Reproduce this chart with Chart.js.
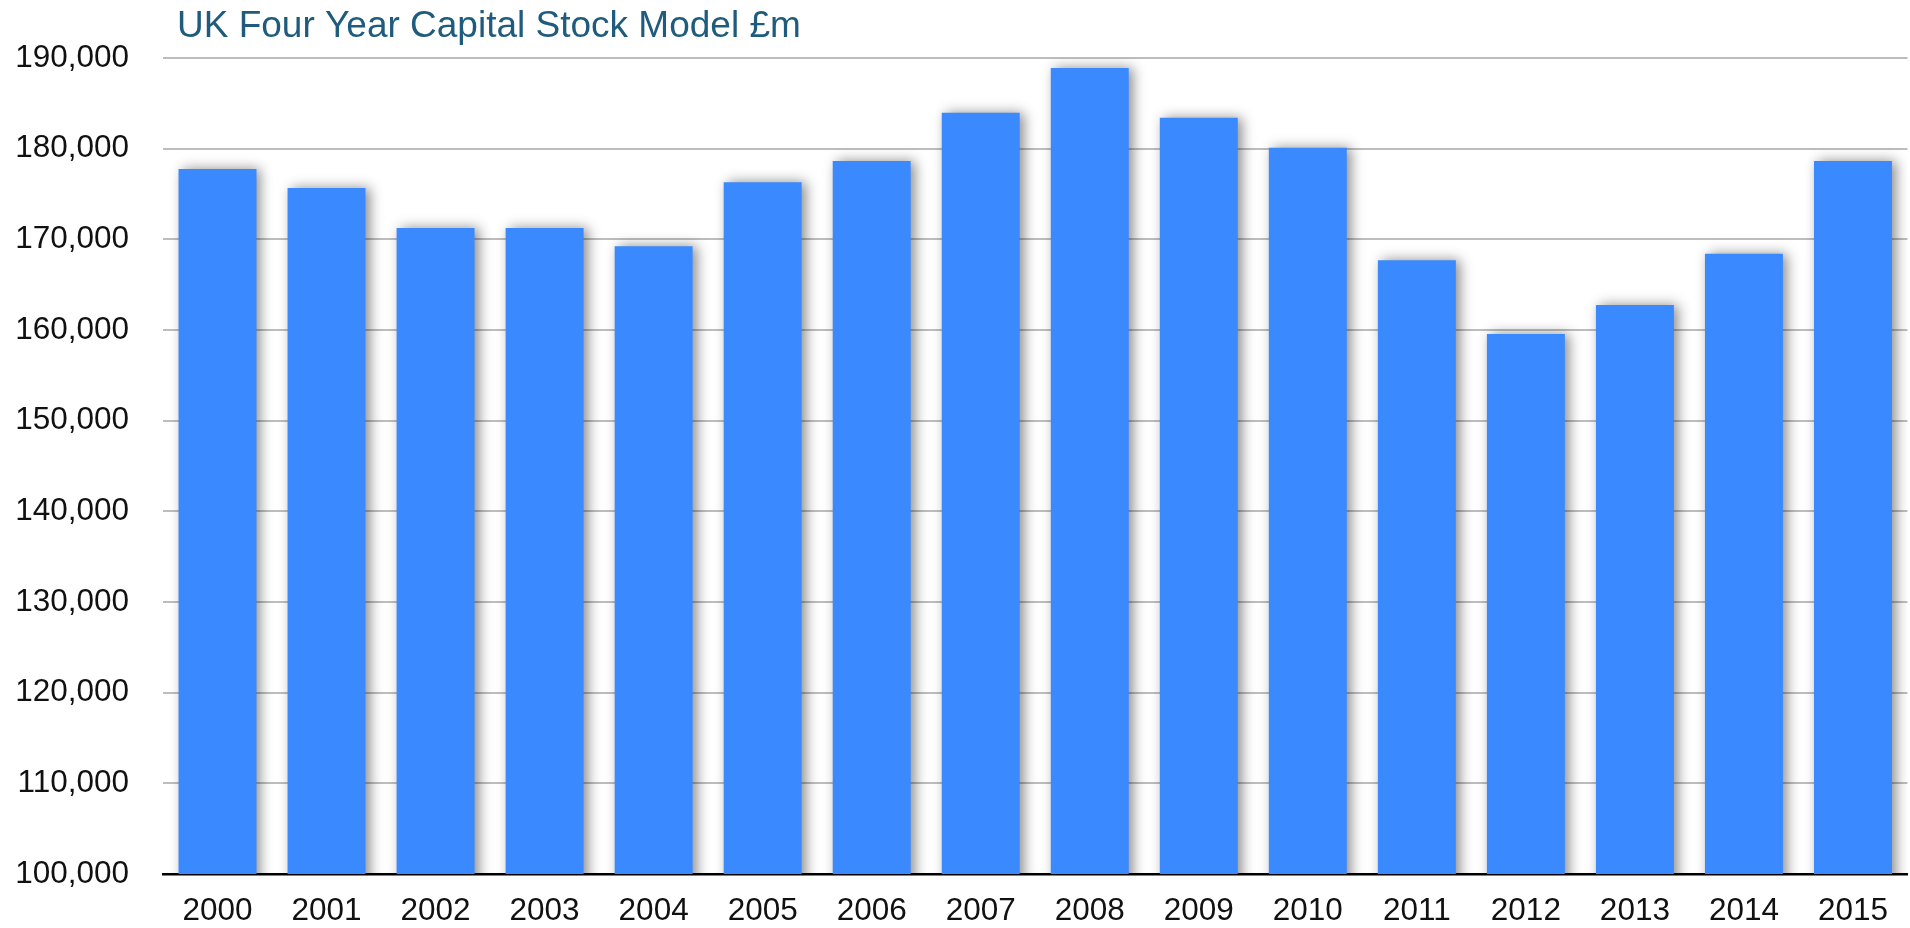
<!DOCTYPE html>
<html>
<head>
<meta charset="utf-8">
<title>UK Four Year Capital Stock Model</title>
<script src="https://cdn.jsdelivr.net/npm/chart.js@4/dist/chart.umd.min.js"></script>
<style>
  html, body { margin: 0; padding: 0; background: #fff; }
  #wrap { width: 1910px; height: 928px; position: relative; }
</style>
</head>
<body>
<div id="wrap"><canvas id="chartStock"></canvas></div>
<script>
// data (£m)
const years = ['2000', '2001', '2002', '2003', '2004', '2005', '2006', '2007',
               '2008', '2009', '2010', '2011', '2012', '2013', '2014', '2015'];
const capitalStock = [177750, 175650, 171250, 171250, 169250, 176300, 178650, 183950,
                      188900, 183400, 180100, 167700, 159550, 162750, 168400, 178650];
const yMin = 100000;
const yMax = 190000;
const yStep = 10000;
const chartTitle = 'UK Four Year Capital Stock Model £m';

const FONT = "'Liberation Sans', Helvetica, Arial, sans-serif";

// soft drop shadow behind the bars
const barShadow = {
  id: 'barShadow',
  beforeDatasetsDraw(chart) {
    const ctx = chart.ctx;
    ctx.save();
    ctx.shadowColor = 'rgba(0, 0, 0, 0.45)';
    ctx.shadowBlur = 12;
    ctx.shadowOffsetX = 4;
    ctx.shadowOffsetY = 0;
  },
  afterDatasetsDraw(chart) {
    chart.ctx.restore();
  }
};

// title sits a little in from the plot's left edge
const titleText = {
  id: 'titleText',
  afterDraw(chart) {
    const { ctx, chartArea } = chart;
    ctx.save();
    ctx.font = '37px ' + FONT;
    ctx.fillStyle = '#1f5b7c';
    ctx.textAlign = 'left';
    ctx.textBaseline = 'alphabetic';
    ctx.fillText(chartTitle, chartArea.left + 14, chartArea.top - 21);
    ctx.restore();
  }
};

const ctx = document.getElementById('chartStock').getContext('2d');
new Chart(ctx, {
  type: 'bar',
  data: {
    labels: years,
    datasets: [{
      label: 'Capital stock',
      data: capitalStock,
      backgroundColor: '#3a89fe',
      borderWidth: 0,
      categoryPercentage: 1.0,
      barPercentage: 0.715
    }]
  },
  options: {
    responsive: true,
    maintainAspectRatio: false,
    devicePixelRatio: 1,
    animation: false,
    layout: { padding: { left: 0, right: 0, top: 58, bottom: 0 } },
    plugins: {
      legend: { display: false },
      tooltip: { enabled: false },
      title: { display: false }
    },
    scales: {
      x: {
        z: 1,
        afterFit: (s) => { s.height = 54; },
        grid: { display: false, drawTicks: false },
        border: { display: true, color: '#000', width: 2.5 },
        ticks: {
          color: '#111',
          padding: 22,
          font: { family: FONT, size: 31.5, lineHeight: 1.0 },
          maxRotation: 0
        }
      },
      y: {
        min: yMin,
        max: yMax,
        afterFit: (s) => { s.width = 163; },
        grid: {
          drawTicks: false,
          lineWidth: 2,
          color: (c) => (c.tick && c.tick.value === yMin) ? 'rgba(0,0,0,0)' : '#bdbdbd'
        },
        border: { display: false },
        ticks: {
          stepSize: yStep,
          color: '#111',
          padding: 34,
          font: { family: FONT, size: 31.5 },
          callback: (v) => Number(v).toLocaleString('en-US')
        }
      }
    }
  },
  plugins: [barShadow, titleText]
});
</script>
</body>
</html>
